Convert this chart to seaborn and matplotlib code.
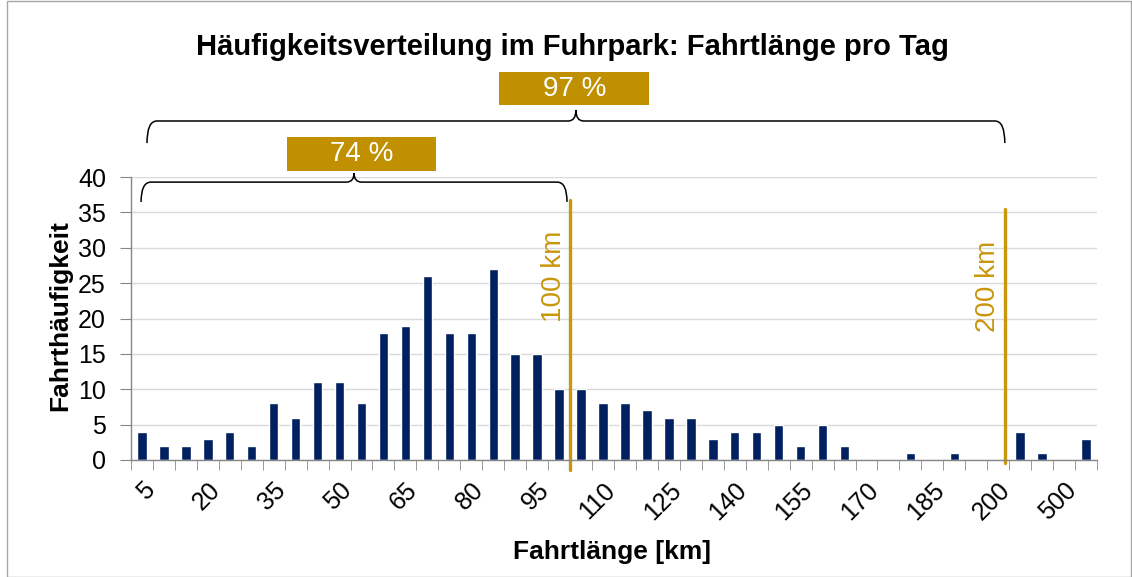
import numpy as np
import matplotlib
matplotlib.use("Agg")
import matplotlib.pyplot as plt
import seaborn as sns
from matplotlib.path import Path
from matplotlib.patches import PathPatch, Rectangle

# Daten
categories = [str(v) for v in range(5, 205, 5)] + ["300", "400", "500", ">500"]
frequencies = [4, 2, 2, 3, 4, 2, 8, 6, 11, 11, 8, 18, 19, 26, 18, 18, 27, 15, 15, 10,
               10, 8, 8, 7, 6, 6, 3, 4, 4, 5, 2, 5, 2, 0, 0, 1, 0, 1, 0, 0,
               4, 1, 0, 3]
shown_labels = categories[::3]
limit_labels = ["100 km", "200 km"]
share_labels = ["74 %", "97 %"]

bar_color = "#002060"
gold = "#C9960C"
box_gold = "#C09000"

sns.set_style("white")
plt.rcParams["font.family"] = ["Liberation Sans", "DejaVu Sans"]
plt.rcParams["text.color"] = "black"
plt.rcParams["axes.labelcolor"] = "black"
plt.rcParams["xtick.labelcolor"] = "black"
plt.rcParams["ytick.labelcolor"] = "black"

fig = plt.figure(figsize=(11.32, 5.77), dpi=100)
ax = fig.add_axes([0.1157, 0.2028, 0.8534, 0.4904])

sns.barplot(x=categories, y=frequencies, order=categories, color=bar_color,
            width=0.43, saturation=1, ax=ax)

ax.set_xlim(-0.5, len(categories) - 0.5)
ax.set_ylim(0, 40)
ax.set_yticks(np.arange(0, 45, 5))
ax.yaxis.grid(True, color="#D9D9D9", linewidth=1)
ax.set_axisbelow(True)
for s in ["top", "right"]:
    ax.spines[s].set_visible(False)
for s in ["left", "bottom"]:
    ax.spines[s].set_color("#868686")
    ax.spines[s].set_linewidth(1)

# x-Achse: jede dritte Beschriftung, Striche zwischen Kategorien
pos = np.arange(len(categories))
ax.set_xticks(pos[::3])
ax.set_xticklabels(shown_labels, rotation=45, ha="right", va="top",
                   rotation_mode="anchor", fontsize=18)
ax.set_xticks(np.arange(-0.5, len(categories), 1), minor=True)
ax.tick_params(axis="x", which="major", length=0, pad=13)
ax.tick_params(axis="x", which="minor", length=7, color="#868686", direction="out", bottom=True)
ax.tick_params(axis="y", length=8, color="#868686", direction="out", left=True, labelsize=18, pad=10)

ax.set_xlabel("Fahrtlänge [km]", fontsize=19, fontweight="bold", va="center")
ax.xaxis.set_label_coords(0.498, -0.325)
ax.set_ylabel("Fahrthäufigkeit", fontsize=19, fontweight="bold", va="center")
ax.yaxis.set_label_coords(-0.0735, 0.512)
fig.suptitle("Häufigkeitsverteilung im Fuhrpark: Fahrtlänge pro Tag",
             x=0.506, y=0.919, va="center", fontsize=21, fontweight="bold")

trans = ax.get_xaxis_transform()

# Grenzlinien 100 km / 200 km
x100 = categories.index("100") + 0.5
x200 = categories.index("200") + 0.3
for xv, lab, y0, y1, yt in [(x100, limit_labels[0], -0.035, 0.919, 0.648),
                            (x200, limit_labels[1], -0.01, 0.887, 0.612)]:
    ax.plot([xv, xv], [y0, y1], transform=trans, color=gold, lw=2.4, clip_on=False)
    ax.text(xv - 0.75, yt, lab, transform=trans, rotation=90, color=gold,
            fontsize=20, ha="center", va="center")


def brace(x0, x1, y, drop, rise, r=0.45, r2=0.35):
    xm = (x0 + x1) / 2
    verts = [(x0, y - drop), (x0, y), (x0 + r, y),
             (xm - r2, y), (xm, y), (xm, y + rise),
             (xm, y), (xm + r2, y),
             (x1 - r, y), (x1, y), (x1, y - drop)]
    codes = [Path.MOVETO, Path.CURVE3, Path.CURVE3,
             Path.LINETO, Path.CURVE3, Path.CURVE3,
             Path.CURVE3, Path.CURVE3,
             Path.LINETO, Path.CURVE3, Path.CURVE3]
    ax.add_patch(PathPatch(Path(verts, codes), transform=trans, fill=False,
                           edgecolor="black", lw=1.1, clip_on=False))


def share_box(xc, y0, y1, lab, w=6.83):
    ax.add_patch(Rectangle((xc - w / 2, y0), w, y1 - y0, transform=trans,
                           facecolor=box_gold, edgecolor="none", clip_on=False))
    ax.text(xc, (y0 + y1) / 2, lab, transform=trans, color="white",
            fontsize=20, ha="center", va="center")


brace(-0.04, 19.36, 0.982, 0.07, 0.032)
share_box(10.0, 1.021, 1.141, share_labels[0])
brace(0.23, 39.3, 1.198, 0.078, 0.039)
share_box(19.7, 1.254, 1.371, share_labels[1])

# Rahmen des Diagramms
fig.patches.append(Rectangle((0.006, 0.0), 0.993, 0.998, transform=fig.transFigure,
                             fill=False, edgecolor="#A6A6A6", lw=1))

fig.savefig("out.png", dpi=100)
